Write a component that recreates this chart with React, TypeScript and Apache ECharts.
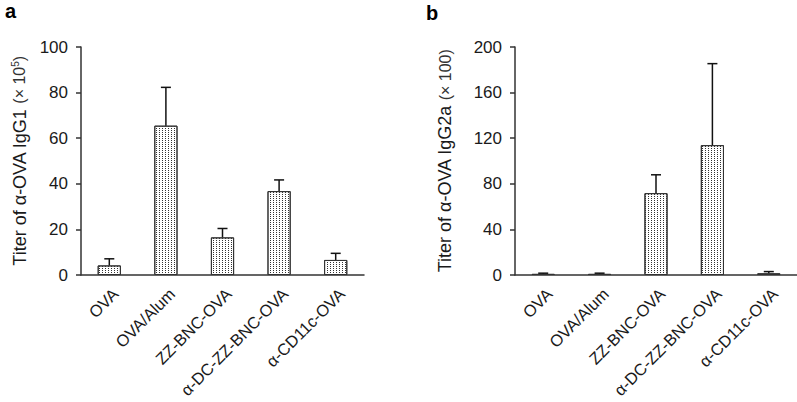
import React, { useEffect, useRef } from "react";
import * as echarts from "echarts";

const categories = ["OVA", "OVA/Alum", "ZZ-BNC-OVA", "α-DC-ZZ-BNC-OVA", "α-CD11c-OVA"];
const igg1Means = [4.2, 65.5, 16.5, 36.8, 6.6];
const igg1Upper = [7.1, 82.3, 20.4, 41.7, 9.5];
const igg2aMeans = [1, 1, 71.8, 113.9, 1.5];
const igg2aUpper = [1.6, 1.6, 87.9, 185.4, 3];
const igg1Ticks = { min: 0, max: 100, interval: 20 };
const igg2aTicks = { min: 0, max: 200, interval: 40 };

const FONT = "'Liberation Sans', Arial, Helvetica, sans-serif";
const TXT = "#1a1a1a";

const decal = {
  symbol: "rect",
  symbolSize: 1,
  dashArrayX: [1, 2],
  dashArrayY: [1, 1],
  color: "#333",
  rotation: 0,
};

function errorSeries(means: number[], upper: number[], idx: number) {
  return {
    type: "custom",
    xAxisIndex: idx,
    yAxisIndex: idx,
    z: 5,
    silent: true,
    data: means.map((m, i) => [i, m, upper[i]]),
    encode: { x: 0, y: [1, 2] },
    renderItem: (params: any, api: any) => {
      const base = api.coord([api.value(0), api.value(1)]);
      const top = api.coord([api.value(0), api.value(2)]);
      const half = 5;
      const style = { stroke: "#111", lineWidth: 1.5 };
      return {
        type: "group",
        children: [
          { type: "line", shape: { x1: base[0], y1: base[1], x2: base[0], y2: top[1] }, style },
          { type: "line", shape: { x1: base[0] - half, y1: top[1], x2: base[0] + half, y2: top[1] }, style },
        ],
      };
    },
  };
}

function barSeries(means: number[], idx: number) {
  return {
    type: "bar",
    xAxisIndex: idx,
    yAxisIndex: idx,
    data: means,
    barWidth: "41%",
    itemStyle: {
      color: "#ffffff",
      borderColor: "#333",
      borderWidth: 1,
      decal,
    },
  };
}

function xAxis(idx: number) {
  return {
    type: "category",
    gridIndex: idx,
    data: categories,
    axisLine: { lineStyle: { color: "#333", width: 1.5 } },
    axisTick: { show: false },
    axisLabel: {
      rotate: 45,
      interval: 0,
      margin: 10,
      verticalAlign: "top",
      fontSize: 16.5,
      color: TXT,
      fontFamily: FONT,
    },
  };
}

function yAxis(idx: number, ticks: any, nameText: string, gap: number) {
  return {
    type: "value",
    gridIndex: idx,
    min: ticks.min,
    max: ticks.max,
    interval: ticks.interval,
    splitLine: { show: false },
    axisLine: { show: true, lineStyle: { color: "#333", width: 1.5 } },
    axisTick: { show: true, length: 5, inside: false, lineStyle: { color: "#333", width: 1.5 } },
    axisLabel: { fontSize: 17, color: TXT, fontFamily: FONT, margin: 13 },
    name: nameText,
    nameLocation: "middle",
    nameRotate: 90,
    nameGap: gap,
    nameTextStyle: {
      fontSize: 18,
      color: TXT,
      fontFamily: FONT,
      rich: {
        s: { fontSize: 16, color: "#333", fontFamily: FONT },
        sup: { fontSize: 10, color: "#333", fontFamily: FONT, verticalAlign: "top", padding: [0, 0, 9, 0] },
      },
    },
  };
}

export default function App() {
  const ref = useRef<HTMLDivElement>(null);
  useEffect(() => {
    if (!ref.current) return;
    const chart = echarts.init(ref.current, null, { renderer: "svg" });
    chart.setOption({
      animation: false,
      backgroundColor: "#ffffff",
      title: [
        { text: "a", left: 0, top: -4, textStyle: { fontSize: 20, fontWeight: "bold", color: "#000", fontFamily: FONT } },
        { text: "b", left: 421, top: -2, textStyle: { fontSize: 20, fontWeight: "bold", color: "#000", fontFamily: FONT } },
      ],
      grid: [
        { left: 81, top: 47, width: 283, height: 228, containLabel: false, outerBoundsMode: "none" },
        { left: 515, top: 47, width: 282, height: 228, containLabel: false, outerBoundsMode: "none" },
      ],
      xAxis: [xAxis(0), xAxis(1)],
      yAxis: [
        yAxis(0, igg1Ticks, "Titer of α-OVA IgG1 {s|(× 10}{sup|5}{s|)}", 52),
        yAxis(1, igg2aTicks, "Titer of α-OVA IgG2a {s|(× 100)}", 61),
      ],
      series: [
        barSeries(igg1Means, 0),
        errorSeries(igg1Means, igg1Upper, 0),
        barSeries(igg2aMeans, 1),
        errorSeries(igg2aMeans, igg2aUpper, 1),
      ],
    });
    return () => chart.dispose();
  }, []);
  return (
    <div
      ref={ref}
      style={{ width: 797, height: 402, position: "absolute", left: 0, top: 0 }}
    />
  );
}
